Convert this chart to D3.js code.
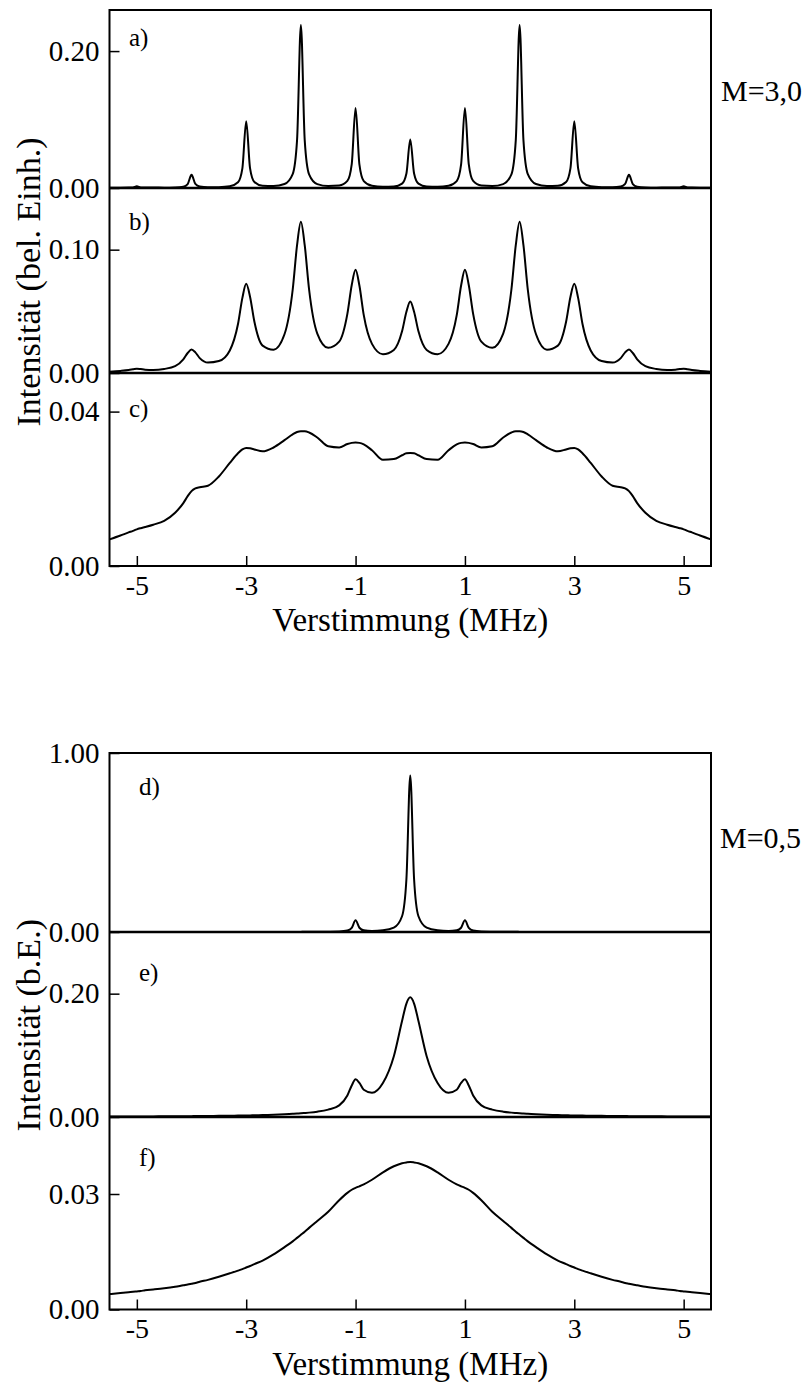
<!DOCTYPE html>
<html>
<head>
<meta charset="utf-8">
<script src="https://cdn.jsdelivr.net/npm/d3@7"></script>
<style>
  body { margin: 0; background: white; }
  svg { display: block; font-family: "Liberation Serif", "Times New Roman", serif; }
</style>
</head>
<body>
<svg id="chart"></svg>
<script>

// detuning grid (MHz), shared by all six spectra
var detuning = [
    -5.5, -5.3, -5.15, -5.07, -5, -4.93, -4.85, -4.7,
    -4.5, -4.3, -4.15, -4.07, -4, -3.93, -3.85, -3.7,
    -3.5, -3.3, -3.15, -3.07, -3, -2.93, -2.85, -2.7,
    -2.5, -2.3, -2.15, -2.07, -2, -1.93, -1.85, -1.7,
    -1.5, -1.3, -1.15, -1.07, -1, -0.93, -0.85, -0.7,
    -0.5, -0.3, -0.15, -0.07, 0, 0.07, 0.15, 0.3,
    0.5, 0.7, 0.85, 0.93, 1, 1.07, 1.15, 1.3,
    1.5, 1.7, 1.85, 1.93, 2, 2.07, 2.15, 2.3,
    2.5, 2.7, 2.85, 2.93, 3, 3.07, 3.15, 3.3,
    3.5, 3.7, 3.85, 3.93, 4, 4.07, 4.15, 4.3,
    4.5, 4.7, 4.85, 4.93, 5, 5.07, 5.15, 5.3,
    5.5
]

// M=3,0
var intensityA = [
    0.0004, 0.0004, 0.0006, 0.0009, 0.0024, 0.0009, 0.0006, 0.0006,
    0.0005, 0.0008, 0.0020, 0.0058, 0.0193, 0.0059, 0.0021, 0.0010,
    0.0012, 0.0025, 0.0084, 0.0288, 0.0975, 0.0290, 0.0087, 0.0032,
    0.0028, 0.0058, 0.0203, 0.0700, 0.2380, 0.0700, 0.0200, 0.0057,
    0.0029, 0.0036, 0.0103, 0.0350, 0.1170, 0.0345, 0.0101, 0.0032,
    0.0018, 0.0022, 0.0064, 0.0212, 0.0710, 0.0212, 0.0064, 0.0022,
    0.0018, 0.0032, 0.0101, 0.0345, 0.1170, 0.0350, 0.0103, 0.0036,
    0.0029, 0.0057, 0.0200, 0.0700, 0.2380, 0.0700, 0.0203, 0.0058,
    0.0028, 0.0032, 0.0087, 0.0290, 0.0975, 0.0288, 0.0084, 0.0025,
    0.0012, 0.0010, 0.0021, 0.0059, 0.0193, 0.0058, 0.0020, 0.0008,
    0.0005, 0.0006, 0.0006, 0.0009, 0.0024, 0.0009, 0.0006, 0.0004,
    0.0004
]

var intensityB = [
    0.0011, 0.0017, 0.0024, 0.0030, 0.0035, 0.0032, 0.0027, 0.0025,
    0.0033, 0.0055, 0.0111, 0.0162, 0.0190, 0.0167, 0.0121, 0.0085,
    0.0097, 0.0183, 0.0397, 0.0609, 0.0723, 0.0619, 0.0415, 0.0222,
    0.0189, 0.0314, 0.0675, 0.1036, 0.1226, 0.1036, 0.0677, 0.0320,
    0.0204, 0.0254, 0.0479, 0.0713, 0.0837, 0.0709, 0.0469, 0.0236,
    0.0152, 0.0187, 0.0338, 0.0496, 0.0579, 0.0496, 0.0338, 0.0187,
    0.0152, 0.0236, 0.0469, 0.0709, 0.0837, 0.0713, 0.0479, 0.0254,
    0.0204, 0.0320, 0.0677, 0.1036, 0.1226, 0.1036, 0.0675, 0.0314,
    0.0189, 0.0222, 0.0415, 0.0619, 0.0723, 0.0609, 0.0397, 0.0183,
    0.0097, 0.0085, 0.0121, 0.0167, 0.0190, 0.0162, 0.0111, 0.0055,
    0.0033, 0.0025, 0.0027, 0.0032, 0.0035, 0.0030, 0.0024, 0.0017,
    0.0011
]

var intensityC = [
    0.0069, 0.0079, 0.0087, 0.0091, 0.0095, 0.0098, 0.0101, 0.0107,
    0.0117, 0.0138, 0.0163, 0.0181, 0.0194, 0.0201, 0.0204, 0.0208,
    0.0232, 0.0267, 0.0292, 0.0302, 0.0306, 0.0305, 0.0302, 0.0297,
    0.0307, 0.0326, 0.0341, 0.0347, 0.0349, 0.0349, 0.0346, 0.0333,
    0.0310, 0.0307, 0.0316, 0.0319, 0.0320, 0.0319, 0.0315, 0.0300,
    0.0275, 0.0277, 0.0287, 0.0292, 0.0293, 0.0292, 0.0287, 0.0277,
    0.0275, 0.0300, 0.0315, 0.0319, 0.0320, 0.0319, 0.0316, 0.0307,
    0.0310, 0.0333, 0.0346, 0.0349, 0.0349, 0.0347, 0.0341, 0.0326,
    0.0307, 0.0297, 0.0302, 0.0305, 0.0306, 0.0302, 0.0292, 0.0267,
    0.0232, 0.0208, 0.0204, 0.0201, 0.0194, 0.0181, 0.0163, 0.0138,
    0.0117, 0.0107, 0.0101, 0.0098, 0.0095, 0.0091, 0.0087, 0.0079,
    0.0069
]

// M=0,5
var intensityD = [
    0.0001, 0.0001, 0.0001, 0.0001, 0.0001, 0.0001, 0.0001, 0.0001,
    0.0001, 0.0001, 0.0002, 0.0002, 0.0002, 0.0002, 0.0002, 0.0002,
    0.0002, 0.0003, 0.0003, 0.0003, 0.0003, 0.0003, 0.0003, 0.0004,
    0.0004, 0.0005, 0.0006, 0.0006, 0.0007, 0.0008, 0.0009, 0.0011,
    0.0016, 0.0030, 0.0080, 0.0232, 0.0650, 0.0238, 0.0093, 0.0062,
    0.0094, 0.0240, 0.0878, 0.2960, 0.8750, 0.2960, 0.0878, 0.0240,
    0.0094, 0.0062, 0.0093, 0.0238, 0.0650, 0.0232, 0.0080, 0.0030,
    0.0016, 0.0011, 0.0009, 0.0008, 0.0007, 0.0006, 0.0006, 0.0005,
    0.0004, 0.0004, 0.0003, 0.0003, 0.0003, 0.0003, 0.0003, 0.0003,
    0.0002, 0.0002, 0.0002, 0.0002, 0.0002, 0.0002, 0.0002, 0.0001,
    0.0001, 0.0001, 0.0001, 0.0001, 0.0001, 0.0001, 0.0001, 0.0001,
    0.0001
]

var intensityE = [
    0.0007, 0.0008, 0.0008, 0.0008, 0.0009, 0.0009, 0.0009, 0.0010,
    0.0011, 0.0012, 0.0013, 0.0014, 0.0014, 0.0015, 0.0015, 0.0017,
    0.0019, 0.0021, 0.0023, 0.0024, 0.0025, 0.0026, 0.0028, 0.0031,
    0.0036, 0.0044, 0.0052, 0.0056, 0.0060, 0.0065, 0.0071, 0.0086,
    0.0120, 0.0189, 0.0349, 0.0512, 0.0611, 0.0553, 0.0441, 0.0392,
    0.0551, 0.0986, 0.1557, 0.1840, 0.1940, 0.1840, 0.1557, 0.0986,
    0.0551, 0.0392, 0.0441, 0.0553, 0.0611, 0.0512, 0.0349, 0.0189,
    0.0120, 0.0086, 0.0071, 0.0065, 0.0060, 0.0056, 0.0052, 0.0044,
    0.0036, 0.0031, 0.0028, 0.0026, 0.0025, 0.0024, 0.0023, 0.0021,
    0.0019, 0.0017, 0.0015, 0.0015, 0.0014, 0.0014, 0.0013, 0.0012,
    0.0011, 0.0010, 0.0009, 0.0009, 0.0009, 0.0008, 0.0008, 0.0008,
    0.0007
]

var intensityF = [
    0.0040, 0.0043, 0.0045, 0.0046, 0.0047, 0.0048, 0.0050, 0.0052,
    0.0055, 0.0059, 0.0063, 0.0065, 0.0067, 0.0069, 0.0072, 0.0077,
    0.0085, 0.0094, 0.0101, 0.0105, 0.0109, 0.0113, 0.0118, 0.0127,
    0.0143, 0.0162, 0.0177, 0.0186, 0.0194, 0.0202, 0.0212, 0.0230,
    0.0254, 0.0284, 0.0303, 0.0311, 0.0316, 0.0320, 0.0325, 0.0337,
    0.0356, 0.0372, 0.0380, 0.0382, 0.0383, 0.0382, 0.0380, 0.0372,
    0.0356, 0.0337, 0.0325, 0.0320, 0.0316, 0.0311, 0.0303, 0.0284,
    0.0254, 0.0230, 0.0212, 0.0202, 0.0194, 0.0186, 0.0177, 0.0162,
    0.0143, 0.0127, 0.0118, 0.0113, 0.0109, 0.0105, 0.0101, 0.0094,
    0.0085, 0.0077, 0.0072, 0.0069, 0.0067, 0.0065, 0.0063, 0.0059,
    0.0055, 0.0052, 0.0050, 0.0048, 0.0047, 0.0046, 0.0045, 0.0043,
    0.0040
]

var panelLabels = ["a)", "b)", "c)", "d)", "e)", "f)"]
var panelMax = [0.26, 0.15, 0.05, 1.00, 0.30, 0.05]
var panelTicks = [0.20, 0.10, 0.04, 1.00, 0.20, 0.03]
var xTicks = [-5, -3, -1, 1, 3, 5]
var groupLabels = ["M=3,0", "M=0,5"]
var yTitles = ["Intensität (bel. Einh.)", "Intensität (b.E.)"]
var xTitle = "Verstimmung (MHz)"

var series = [intensityA, intensityB, intensityC, intensityD, intensityE, intensityF]

var dimensions = {
    width: 812,
    height: 1383,
    left: 109.5,
    right: 711,
    // top edge, two dividers, bottom edge of each group of three panels
    edges: [[10, 188, 373, 566], [753, 932, 1117, 1309.5]],
    labelX: [129, 129, 129, 139, 139, 139],
    labelY: [46, 230, 417, 795, 981, 1166],
    groupLabelPos: [[721, 101], [720, 848]]
}

var svg = d3.select("#chart")
            .attr("width", dimensions.width)
            .attr("height", dimensions.height)

svg.append("rect")
   .attr("width", dimensions.width)
   .attr("height", dimensions.height)
   .attr("fill", "white")

var xScale = d3.scaleLinear()
               .domain([-5.5, 5.5])
               .range([dimensions.left, dimensions.right])

var line = d3.line()
             .x(d => xScale(d[0]))
             .y(d => d[2](d[1]))
             .curve(d3.curveMonotoneX)

series.forEach(function(values, i) {
    var g = Math.floor(i / 3)
    var p = i % 3
    var top = dimensions.edges[g][p]
    var bottom = dimensions.edges[g][p + 1]

    var yScale = d3.scaleLinear()
                   .domain([0, panelMax[i]])
                   .range([bottom, top])

    var yAxis = svg.append("g")
                   .attr("transform", `translate(${dimensions.left},0)`)
                   .call(d3.axisLeft(yScale)
                           .tickValues([0, panelTicks[i]])
                           .tickFormat(d3.format(".2f"))
                           .tickSize(-10)
                           .tickPadding(10))

    yAxis.select(".domain").remove()
    yAxis.selectAll("line").attr("stroke", "black").attr("stroke-width", 1.5)
    yAxis.selectAll("text")
         .attr("font-family", "Liberation Serif, Times New Roman, serif")
         .attr("font-size", 29)
         .attr("fill", "black")

    svg.append("path")
       .datum(detuning.map((x, j) => [x, values[j], yScale]))
       .attr("fill", "none")
       .attr("stroke", "black")
       .attr("stroke-width", 2)
       .attr("stroke-linejoin", "round")
       .attr("d", line)

    svg.append("text")
       .attr("x", dimensions.labelX[i])
       .attr("y", dimensions.labelY[i])
       .style("font-size", "25px")
       .text(panelLabels[i])
})

dimensions.edges.forEach(function(edges, g) {
    var top = edges[0]
    var bottom = edges[3]

    // frame and dividers
    svg.append("rect")
       .attr("x", dimensions.left)
       .attr("y", top)
       .attr("width", dimensions.right - dimensions.left)
       .attr("height", bottom - top)
       .attr("fill", "none")
       .attr("stroke", "black")
       .attr("stroke-width", 2)

    svg.selectAll(null)
       .data([edges[1], edges[2]])
       .enter()
       .append("line")
       .attr("x1", dimensions.left)
       .attr("x2", dimensions.right)
       .attr("y1", d => d)
       .attr("y2", d => d)
       .attr("stroke", "black")
       .attr("stroke-width", 2.5)

    var xAxis = svg.append("g")
                   .attr("transform", `translate(0,${bottom})`)
                   .call(d3.axisBottom(xScale)
                           .tickValues(xTicks)
                           .tickFormat(d => String(d))
                           .tickSize(-10)
                           .tickPadding(9))

    xAxis.select(".domain").remove()
    xAxis.selectAll("line").attr("stroke", "black").attr("stroke-width", 1.5)
    xAxis.selectAll("text")
         .attr("font-family", "Liberation Serif, Times New Roman, serif")
         .attr("font-size", 28)
         .attr("fill", "black")

    svg.append("text")
       .attr("x", (dimensions.left + dimensions.right) / 2)
       .attr("y", bottom + 65)
       .attr("text-anchor", "middle")
       .style("font-size", "33px")
       .text(xTitle)

    svg.append("text")
       .attr("transform", `translate(40,${(top + bottom) / 2 - 6}) rotate(-90)`)
       .attr("text-anchor", "middle")
       .style("font-size", "34px")
       .text(yTitles[g])

    svg.append("text")
       .attr("x", dimensions.groupLabelPos[g][0])
       .attr("y", dimensions.groupLabelPos[g][1])
       .style("font-size", "30px")
       .text(groupLabels[g])
})

</script>
</body>
</html>
